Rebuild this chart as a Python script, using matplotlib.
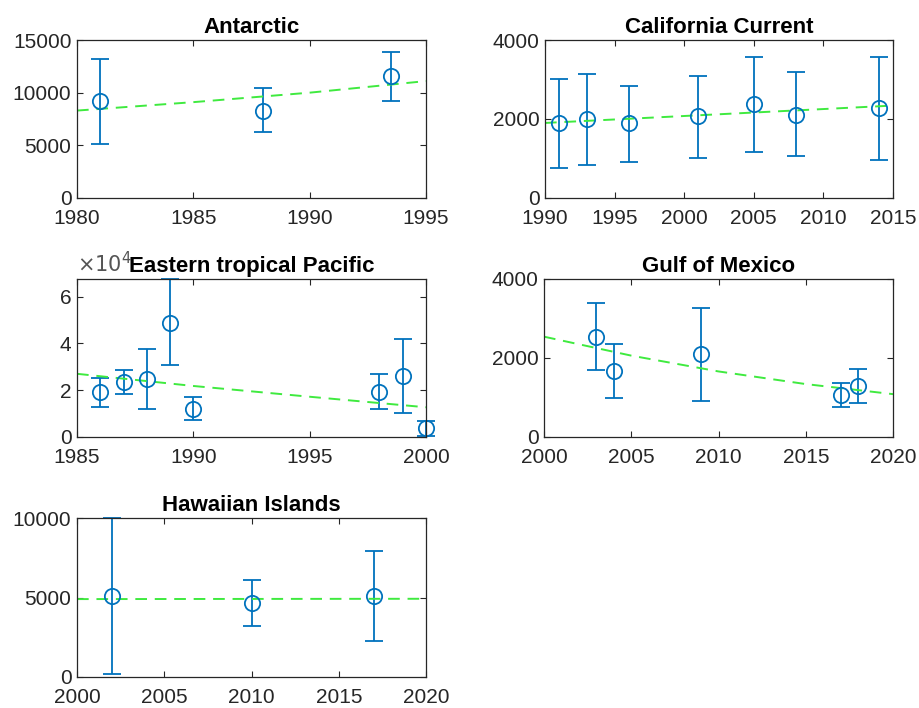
import numpy as np
import matplotlib
matplotlib.use("Agg")
import matplotlib.pyplot as plt
from matplotlib import ticker

plt.rcParams['font.family'] = ['Liberation Sans', 'DejaVu Sans']

# --- data ---
ant_year = [1981, 1988, 1993.5]
ant_val = [9200, 8280, 11600]
ant_lo = [5100, 6220, 9230]
ant_hi = [13160, 10400, 13890]
ant_trend_x = [1980, 1985, 1990, 1995]
ant_trend_y = [8300, 9100, 10000, 11100]

cal_year = [1991, 1993, 1996, 2001, 2005, 2008, 2014]
cal_val = [1890, 2000, 1890, 2070, 2380, 2110, 2280]
cal_lo = [760, 830, 910, 1020, 1170, 1060, 960]
cal_hi = [3000, 3140, 2840, 3100, 3580, 3200, 3580]
cal_trend_x = [1990, 2015]
cal_trend_y = [1900, 2340]

etp_year = [1986, 1987, 1988, 1989, 1990, 1998, 1999, 2000]
etp_val = [19100, 23300, 24700, 48900, 12100, 19400, 26100, 3800]
etp_lo = [13000, 18400, 11900, 30600, 7400, 11900, 10200, 600]
etp_hi = [25400, 28700, 37400, 67500, 16900, 27000, 42000, 7000]
etp_trend_x = [1985, 1990, 1995, 2000]
etp_trend_y = [27000, 21800, 17200, 12700]

gom_year = [2003, 2004, 2009, 2017, 2018]
gom_val = [2540, 1680, 2090, 1060, 1290]
gom_lo = [1700, 980, 920, 760, 850]
gom_hi = [3400, 2360, 3260, 1370, 1730]
gom_trend_x = [2000, 2005, 2010, 2015, 2020]
gom_trend_y = [2540, 2060, 1660, 1340, 1085]

haw_year = [2002, 2010, 2017]
haw_val = [5120, 4630, 5120]
haw_lo = [210, 3220, 2270]
haw_hi = [10000, 6100, 7940]
haw_trend_x = [2000, 2020]
haw_trend_y = [4900, 4920]

BLUE = '#0072BD'
GREEN = '#3FEA3F'
DARK = '#262626'


def panel(rect, title, yr, val, lo, hi, tx, ty, xlim, xticks, ylim, yticks):
    ax = fig.add_axes(rect)
    val = np.array(val)
    err = np.vstack([val - np.array(lo), np.array(hi) - val])
    eb = ax.errorbar(yr, val, yerr=err, fmt='o', mfc='none', mec=BLUE,
                     ms=11, mew=1.3, color=BLUE, ecolor=BLUE, elinewidth=1.3,
                     capsize=6.5, capthick=1.3)
    arts = [eb.lines[0]] + list(eb.lines[1]) + list(eb.lines[2])
    for art in arts:
        if art is not None:
            art.set_clip_on(False)
    ax.plot(tx, ty, '--', color=GREEN, lw=1.4, dashes=(6, 4))
    ax.set_xlim(xlim)
    ax.set_ylim(ylim)
    ax.set_xticks(xticks)
    ax.set_yticks(yticks)
    ax.set_title(title, fontsize=16, fontweight='bold', pad=5)
    ax.tick_params(direction='in', top=True, right=True, labelsize=15,
                   colors=DARK, length=4, width=0.8)
    ax.tick_params(axis='x', pad=8)
    ax.tick_params(axis='y', pad=4)
    for s in ax.spines.values():
        s.set_color(DARK)
        s.set_linewidth(0.9)
    return ax


fig = plt.figure(figsize=(9.2, 7.08), dpi=100)
W, H = 920.0, 708.0


def r(l, t, rt, b):
    return [l / W, 1 - b / H, (rt - l) / W, (b - t) / H]


panel(r(77, 40, 426, 198), 'Antarctic', ant_year, ant_val, ant_lo, ant_hi,
      ant_trend_x, ant_trend_y, (1980, 1995), [1980, 1985, 1990, 1995],
      (0, 15000), [0, 5000, 10000, 15000])
panel(r(545, 40, 893, 198), 'California Current', cal_year, cal_val, cal_lo,
      cal_hi, cal_trend_x, cal_trend_y, (1990, 2015),
      [1990, 1995, 2000, 2005, 2010, 2015], (0, 4000), [0, 2000, 4000])
ax3 = panel(r(77, 279, 426, 437), 'Eastern tropical Pacific', etp_year,
            etp_val, etp_lo, etp_hi, etp_trend_x, etp_trend_y, (1985, 2000),
            [1985, 1990, 1995, 2000], (0, 67500), [0, 20000, 40000, 60000])
ax3.yaxis.set_major_formatter(ticker.FuncFormatter(lambda v, p: f'{v / 1e4:g}'))
ax3.text(0.0, 1.02, r'$\times10^4$', transform=ax3.transAxes, fontsize=15,
         color='#555555', ha='left', va='bottom', zorder=0)
panel(r(544, 279, 893, 437), 'Gulf of Mexico', gom_year, gom_val, gom_lo,
      gom_hi, gom_trend_x, gom_trend_y, (2000, 2020),
      [2000, 2005, 2010, 2015, 2020], (0, 4000), [0, 2000, 4000])
panel(r(77, 518, 426, 677), 'Hawaiian Islands', haw_year, haw_val, haw_lo,
      haw_hi, haw_trend_x, haw_trend_y, (2000, 2020),
      [2000, 2005, 2010, 2015, 2020], (0, 10000), [0, 5000, 10000])

fig.savefig('out.png', dpi=100)
